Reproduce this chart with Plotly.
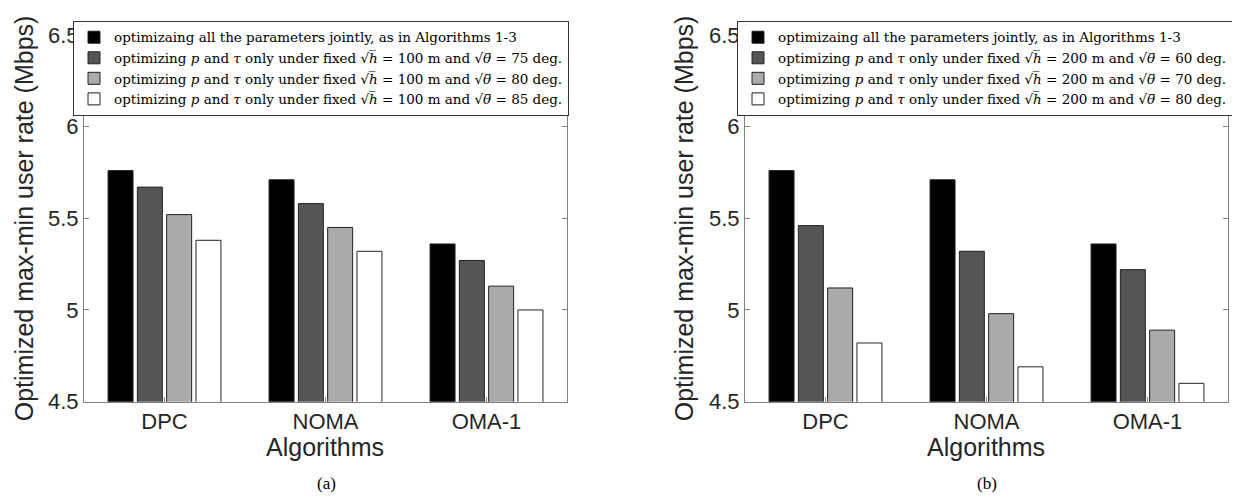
import plotly.graph_objects as go

categories = ["DPC", "NOMA", "OMA-1"]
cat_pos = [1, 2, 3]

# Panel (a): fixed sqrt(h) = 100 m
vals_a_joint = [5.76, 5.71, 5.36]
vals_a_75 = [5.67, 5.58, 5.27]
vals_a_80 = [5.52, 5.45, 5.13]
vals_a_85 = [5.38, 5.32, 5.00]

# Panel (b): fixed sqrt(h) = 200 m
vals_b_joint = [5.76, 5.71, 5.36]
vals_b_60 = [5.46, 5.32, 5.22]
vals_b_70 = [5.12, 4.98, 4.89]
vals_b_80 = [4.82, 4.69, 4.60]

colors = ["#000000", "#555555", "#aaaaaa", "#ffffff"]

SQH = "\u221a<i>h\u0305</i>"
SQT = "\u221a<i>\u03b8\u0305</i>"


def lab(hval, tval):
    return (f"optimizing <i>p</i> and <i>\u03c4</i> only under fixed {SQH} = {hval} m "
            f"and {SQT} = {tval} deg.")


names_a = ["optimizaing all the parameters jointly, as in Algorithms 1-3",
           lab(100, 75), lab(100, 80), lab(100, 85)]
names_b = ["optimizaing all the parameters jointly, as in Algorithms 1-3",
           lab(200, 60), lab(200, 70), lab(200, 80)]

W, H = 1240, 501
fig = go.Figure()

series_a = [vals_a_joint, vals_a_75, vals_a_80, vals_a_85]
series_b = [vals_b_joint, vals_b_60, vals_b_70, vals_b_80]

for i, (vals, nm) in enumerate(zip(series_a, names_a)):
    fig.add_trace(go.Bar(x=cat_pos, y=vals, name=nm, xaxis="x", yaxis="y",
                         marker=dict(color=colors[i], line=dict(color="#222222", width=1)),
                         legend="legend", offsetgroup=str(i)))
for i, (vals, nm) in enumerate(zip(series_b, names_b)):
    fig.add_trace(go.Bar(x=cat_pos, y=vals, name=nm, xaxis="x2", yaxis="y2",
                         marker=dict(color=colors[i], line=dict(color="#222222", width=1)),
                         legend="legend2", offsetgroup=str(i)))

ydom = [1 - 401.7 / H, 1 - 15.7 / H]
axis_common = dict(showline=True, mirror="ticks", ticks="inside", ticklen=5,
                   linecolor="#808080", tickcolor="#808080", linewidth=1,
                   showgrid=False, zeroline=False,
                   tickfont=dict(family="Liberation Sans, Arial", size=22, color="#262626"))

xa = dict(axis_common, range=[0.5, 3.5], tickvals=cat_pos, ticktext=categories)
ya = dict(axis_common, range=[4.5, 6.5], dtick=0.5, tick0=4.5)

leg_font = dict(family="DejaVu Serif, serif", size=13.5, color="#000")
fig.update_layout(
    width=W, height=H,
    margin=dict(l=0, r=0, t=0, b=0),
    paper_bgcolor="white", plot_bgcolor="white",
    barmode="group", bargap=0.272, bargroupgap=0.147,
    showlegend=True,
    xaxis=dict(xa, domain=[76 / W, 559 / W], anchor="y"),
    yaxis=dict(ya, domain=ydom, anchor="x"),
    xaxis2=dict(xa, domain=[737 / W, 1220 / W], anchor="y2"),
    yaxis2=dict(ya, domain=ydom, anchor="x2"),
    legend=dict(x=65 / W, y=1 - 1 / H, xanchor="left", yanchor="top",
                bgcolor="white", bordercolor="#333333", borderwidth=1,
                font=leg_font, itemwidth=30, tracegroupgap=0, traceorder="normal"),
    legend2=dict(x=729 / W, y=1 - 1 / H, xanchor="left", yanchor="top",
                 bgcolor="white", bordercolor="#333333", borderwidth=1,
                 font=leg_font, itemwidth=30, tracegroupgap=0, traceorder="normal"),
)

title_font = dict(family="Liberation Sans, Arial", size=25, color="#262626")
ann = []
for xc, xmid, sub in [(16, 317, "(a)"), (676, 978, "(b)")]:
    ann.append(dict(text="Optimized max-min user rate (Mbps)", textangle=-90,
                    x=xc / W, y=1 - 208.7 / H, xref="paper", yref="paper",
                    xanchor="center", yanchor="middle", showarrow=False, font=title_font))
    ann.append(dict(text="Algorithms", x=xmid / W, y=1 - 449 / H, xref="paper", yref="paper",
                    xanchor="center", yanchor="middle", showarrow=False, font=title_font))
    ann.append(dict(text=sub, x=(xmid + 1) / W, y=1 - 488 / H, xref="paper", yref="paper",
                    xanchor="center", yanchor="middle", showarrow=False,
                    font=dict(family="Liberation Serif, serif", size=17, color="#000")))
fig.update_layout(annotations=ann)

fig.write_html("out.html")
